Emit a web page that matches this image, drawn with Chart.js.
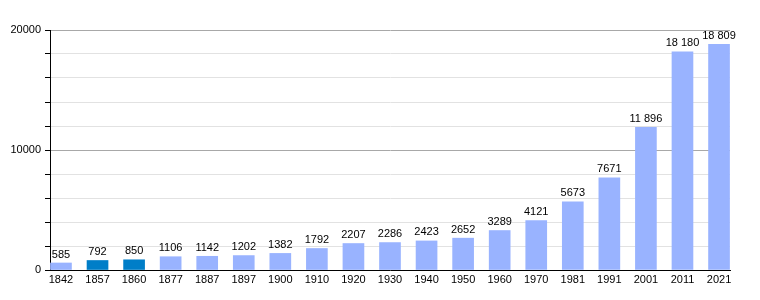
<!DOCTYPE html>
<html>
<head>
<meta charset="utf-8">
<script src="https://cdn.jsdelivr.net/npm/chart.js@4"></script>
<style>
  html, body { margin: 0; padding: 0; background: #fff; }
  #box { width: 760px; height: 300px; }
</style>
</head>
<body>
<div id="box"><canvas id="graf"></canvas></div>
<script>
const annees = ['1842', '1857', '1860', '1877', '1887', '1897', '1900', '1910', '1920', '1930',
  '1940', '1950', '1960', '1970', '1981', '1991', '2001', '2011', '2021'];
const population = [585, 792, 850, 1106, 1142, 1202, 1382, 1792, 2207, 2286,
  2423, 2652, 3289, 4121, 5673, 7671, 11896, 18180, 18809];
const anneesFoncees = ['1857', '1860'];
const ticksY = [0, 10000, 20000];

const corClara = 'rgb(153,179,255)';
const corEscura = 'rgb(0,126,200)';

function formatar(v) {
  if (v < 10000) return String(v);
  return String(v).replace(/\B(?=(\d{3})+(?!\d))/g, ' ');
}

const rotulos = {
  id: 'rotulos',
  afterDatasetsDraw(chart) {
    const ctx = chart.ctx;
    const meta = chart.getDatasetMeta(0);
    ctx.save();
    ctx.font = '11px "Liberation Sans", Arial, sans-serif';
    ctx.fillStyle = '#000';
    ctx.textAlign = 'center';
    ctx.textBaseline = 'bottom';
    meta.data.forEach((bar, i) => {
      ctx.fillText(formatar(population[i]), bar.x, bar.y - 3);
    });
    ctx.restore();
  }
};

new Chart(document.getElementById('graf'), {
  type: 'bar',
  data: {
    datasets: [{
      data: population.map((v, i) => ({ x: i, y: v })),
      backgroundColor: annees.map(a => anneesFoncees.includes(a) ? corEscura : corClara),
      barThickness: 21
    }]
  },
  options: {
    responsive: true,
    maintainAspectRatio: false,
    animation: false,
    layout: { padding: { top: 30, right: 30, left: 0, bottom: 0 } },
    plugins: { legend: { display: false }, tooltip: { enabled: false } },
    scales: {
      x: {
        type: 'linear',
        offset: false,
        min: -0.3,
        max: annees.length - 0.7,
        afterBuildTicks: s => { s.ticks = annees.map((_, i) => ({ value: i })); },
        afterFit: s => { s.height = 30; },
        grid: { display: false, drawTicks: false },
        border: { display: true, color: '#000', width: 1 },
        ticks: {
          autoSkip: false,
          maxRotation: 0,
          padding: 3,
          color: '#000',
          font: { family: '"Liberation Sans", Arial, sans-serif', size: 11 },
          callback: v => annees[v]
        }
      },
      y: {
        min: 0,
        max: 20000,
        afterFit: s => { s.width = 50; },
        ticks: {
          stepSize: 2000,
          padding: 4,
          color: '#000',
          font: { family: '"Liberation Sans", Arial, sans-serif', size: 11 },
          callback: v => ticksY.includes(v) ? String(v) : ''
        },
        grid: {
          color: c => (c.tick.value === 10000 || c.tick.value === 20000) ? '#a8a8a8' : '#e2e2e2',
          tickColor: '#000',
          tickLength: 5
        },
        border: { display: true, color: '#000', width: 1 }
      }
    }
  },
  plugins: [rotulos]
});
</script>
</body>
</html>
